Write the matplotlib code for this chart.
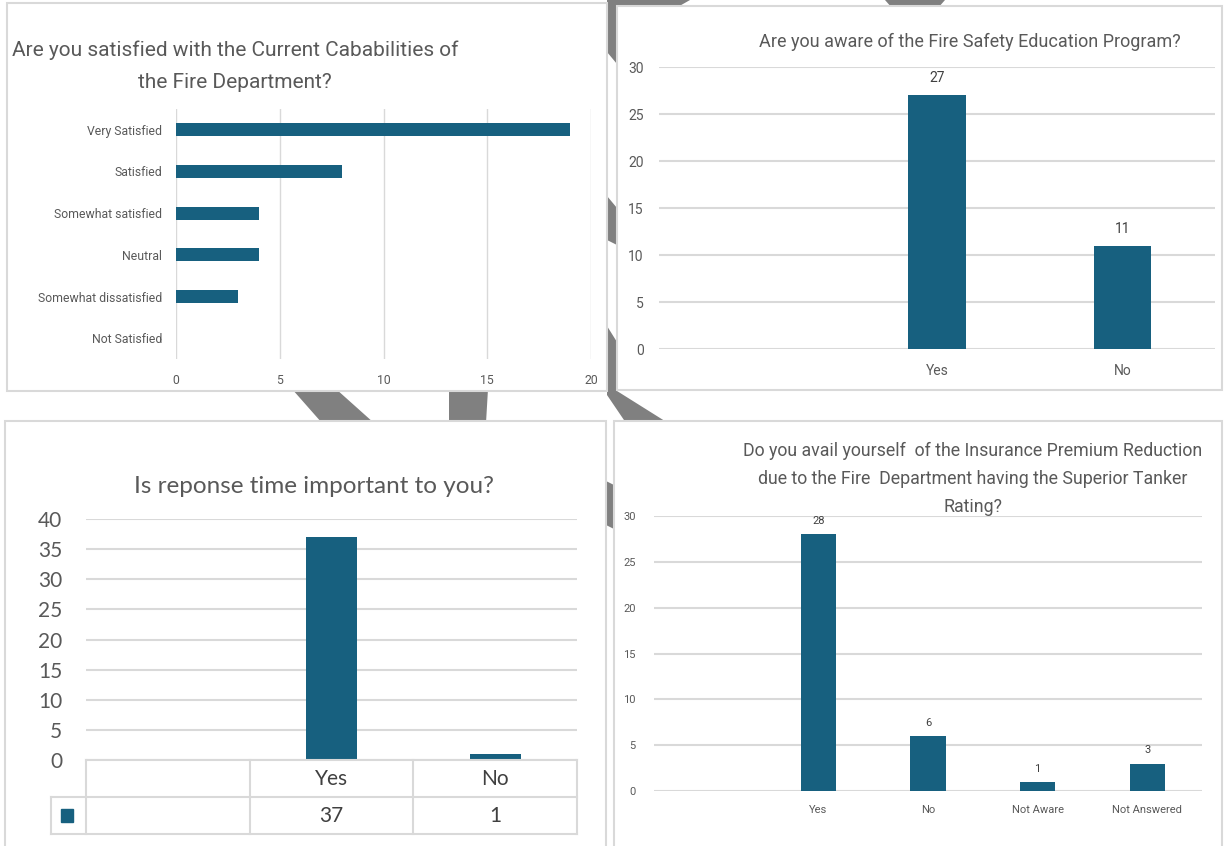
import matplotlib.pyplot as plt
from matplotlib.patches import Polygon, Rectangle
from matplotlib import font_manager

# Survey answers
sat_labels = ['Very Satisfied', 'Satisfied', 'Somewhat satisfied', 'Neutral',
              'Somewhat dissatisfied', 'Not Satisfied']
sat_counts = [19, 8, 4, 4, 3, 0]

edu_labels = ['', 'Yes', 'No']
edu_counts = [0, 27, 11]

resp_labels = ['', 'Yes', 'No']
resp_counts = [0, 37, 1]

ins_labels = ['', 'Yes', 'No', 'Not Aware', 'Not Answered']
ins_counts = [0, 28, 6, 1, 3]

W, H = 1225, 846
BAR = '#17607f'
GRID = '#d9d9d9'
TXT = '#595959'
DARK = '#404040'

names = {f.name for f in font_manager.fontManager.ttflist}
NARROW = 'Liberation Sans Narrow' if 'Liberation Sans Narrow' in names else 'Roboto'
WIDE = 'Lato'

fig = plt.figure(figsize=(W / 100, H / 100), dpi=100)


def box(x0, y0, x1, y1):
    # pixel box (y down) -> figure fraction rect
    return [x0 / W, 1 - y1 / H, (x1 - x0) / W, (y1 - y0) / H]


def ftext(x, y, s, **kw):
    fig.text(x / W, 1 - y / H, s, **kw)


# background layer with grey decoration and the white chart frames
bg = fig.add_axes([0, 0, 1, 1], zorder=0)
bg.set_xlim(0, W)
bg.set_ylim(H, 0)
bg.axis('off')

grey_bits = [
    [(607, 0), (690, 0), (676, 8), (617, 8), (617, 64), (607, 52)],
    [(885, 0), (945, 0), (938, 8), (892, 8)],
    [(607, 196), (617, 208), (617, 245), (607, 240)],
    [(607, 326), (617, 342), (617, 391), (668, 423), (626, 423), (607, 395)],
    [(292, 389), (336, 389), (374, 423), (322, 423)],
    [(449, 389), (488, 389), (486, 423), (449, 423)],
    [(606, 481), (614, 485), (614, 529), (606, 525)],
]
for pts in grey_bits:
    bg.add_patch(Polygon(pts, closed=True, fc='#808080', ec='none'))

frames = [(7, 3, 607, 391), (617, 6, 1222, 390), (5, 421, 606, 860), (614, 421, 1222, 860)]
for x0, y0, x1, y1 in frames:
    bg.add_patch(Rectangle((x0, y0), x1 - x0, y1 - y0, fc='white', ec=GRID, lw=1.5))


def style_axes(ax):
    for s in ax.spines.values():
        s.set_visible(False)
    ax.tick_params(length=0, colors=TXT)
    ax.set_facecolor('none')


# 1. satisfaction, horizontal bars
ax1 = fig.add_axes(box(176, 109, 591, 359), zorder=2)
ax1.barh(range(len(sat_labels)), sat_counts, height=0.31, color=BAR)
ax1.set_xlim(0, 20)
ax1.set_ylim(len(sat_labels) - 0.5, -0.5)
ax1.set_yticks(range(len(sat_labels)), sat_labels)
ax1.set_xticks([0, 5, 10, 15, 20])
ax1.xaxis.grid(True, color=GRID, lw=1)
ax1.set_axisbelow(True)
style_axes(ax1)
ax1.tick_params(axis='y', pad=10)
ax1.tick_params(axis='x', pad=11)
for lab in ax1.get_xticklabels() + ax1.get_yticklabels():
    lab.set_fontfamily(NARROW)
    lab.set_fontsize(8.8)
ftext(12, 50, 'Are you satisfied with the Current Cababilities of', fontsize=15,
      family=NARROW, color=TXT, ha='left', va='center')
ftext(235, 82, 'the Fire Department?', fontsize=15, family=NARROW, color=TXT,
      ha='center', va='center')

# 2. fire safety education
ax2 = fig.add_axes(box(659, 67, 1215, 349), zorder=2)
b2 = ax2.bar(range(len(edu_labels)), edu_counts, width=0.31, color=BAR)
ax2.set_xlim(-0.5, len(edu_labels) - 0.5)
ax2.set_ylim(0, 30)
ax2.set_yticks(range(0, 31, 5))
ax2.set_xticks(range(len(edu_labels)), edu_labels)
ax2.yaxis.grid(True, color=GRID, lw=1.5)
ax2.set_axisbelow(True)
style_axes(ax2)
ax2.tick_params(axis='y', pad=11)
ax2.tick_params(axis='x', pad=11)
for lab in ax2.get_xticklabels() + ax2.get_yticklabels():
    lab.set_fontfamily(NARROW)
    lab.set_fontsize(10)
for rect, v in zip(b2, edu_counts):
    if v:
        ax2.annotate(str(v), (rect.get_x() + rect.get_width() / 2, v), xytext=(0, 7),
                     textcoords='offset points', ha='center', va='bottom',
                     family=NARROW, fontsize=10, color=DARK)
ftext(970, 42, 'Are you aware of the Fire Safety Education Program?', fontsize=13,
      family=NARROW, color=TXT, ha='center', va='center')

# 3. response time, with data table under the bars
ax3 = fig.add_axes(box(86, 519, 577, 760), zorder=2)
ax3.bar(range(len(resp_labels)), resp_counts, width=0.31, color=BAR)
ax3.set_xlim(-0.5, len(resp_labels) - 0.5)
ax3.set_ylim(0, 40)
ax3.set_yticks(range(0, 41, 5))
ax3.set_xticks([])
ax3.yaxis.grid(True, color=GRID, lw=1.5)
ax3.set_axisbelow(True)
style_axes(ax3)
ax3.tick_params(axis='y', pad=17, labelsize=15)
for lab in ax3.get_yticklabels():
    lab.set_fontfamily(WIDE)

row_h = 37 / 241 * 40
tab = dict(color=GRID, lw=1.5, clip_on=False)
ax3.plot([-0.5, 2.5], [0, 0], **tab)
ax3.plot([-0.5 - 35 / 164, 2.5], [-row_h, -row_h], **tab)
ax3.plot([-0.5 - 35 / 164, 2.5], [-2 * row_h, -2 * row_h], **tab)
for xv in [-0.5, 0.5, 1.5, 2.5]:
    ax3.plot([xv, xv], [0, -2 * row_h], **tab)
ax3.plot([-0.5 - 35 / 164] * 2, [-row_h, -2 * row_h], **tab)
for i, (lab, v) in enumerate(zip(resp_labels, resp_counts)):
    ax3.text(i, -row_h / 2, lab, ha='center', va='center', fontsize=15,
             family=WIDE, color=DARK, clip_on=False)
    if lab:
        ax3.text(i, -1.5 * row_h, str(v), ha='center', va='center', fontsize=15,
                 family=WIDE, color=DARK, clip_on=False)
ax3.add_patch(Rectangle((-0.5 - 25 / 164, -1.5 * row_h - 1.0), 12 / 164, 2.0,
                        color=BAR, clip_on=False))
ftext(314, 486, 'Is reponse time important to you?', fontsize=17.5, family=WIDE,
      color=TXT, ha='center', va='center')

# 4. insurance premium reduction
ax4 = fig.add_axes(box(654, 516, 1202, 791), zorder=2)
b4 = ax4.bar(range(len(ins_labels)), ins_counts, width=0.32, color=BAR)
ax4.set_xlim(-0.5, len(ins_labels) - 0.5)
ax4.set_ylim(0, 30)
ax4.set_yticks(range(0, 31, 5))
ax4.set_xticks(range(len(ins_labels)), ins_labels)
ax4.yaxis.grid(True, color=GRID, lw=1.5)
ax4.set_axisbelow(True)
style_axes(ax4)
ax4.tick_params(axis='y', pad=13)
ax4.tick_params(axis='x', pad=10)
for lab in ax4.get_xticklabels() + ax4.get_yticklabels():
    lab.set_fontfamily(NARROW)
    lab.set_fontsize(8)
for rect, v in zip(b4, ins_counts):
    if v:
        ax4.annotate(str(v), (rect.get_x() + rect.get_width() / 2, v), xytext=(0, 6),
                     textcoords='offset points', ha='center', va='bottom',
                     family=NARROW, fontsize=8, color=DARK)
ftext(973, 451, 'Do you avail yourself  of the Insurance Premium Reduction', fontsize=12.8,
      family=NARROW, color=TXT, ha='center', va='center', zorder=3)
ftext(973, 479, 'due to the Fire  Department having the Superior Tanker', fontsize=12.8,
      family=NARROW, color=TXT, ha='center', va='center', zorder=3)
ftext(973, 507, 'Rating?', fontsize=12.8, family=NARROW, color=TXT,
      ha='center', va='center', zorder=3)

fig.savefig('out.png', dpi=100)
